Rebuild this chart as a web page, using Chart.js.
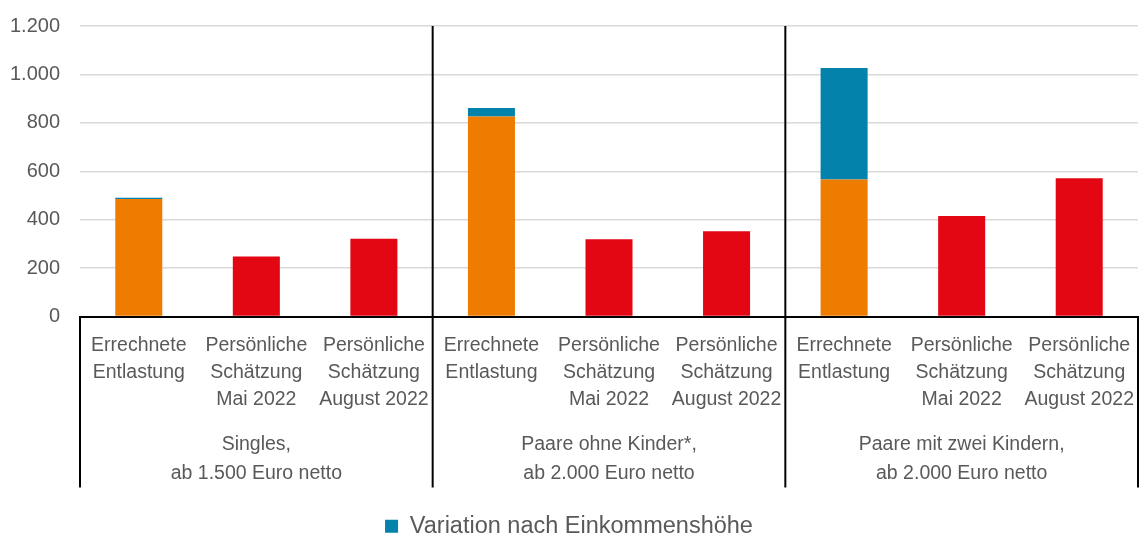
<!DOCTYPE html>
<html>
<head>
<meta charset="utf-8">
<script src="https://cdn.jsdelivr.net/npm/chart.js@4"></script>
<style>
  html, body { margin: 0; padding: 0; background: #fff; }
  #wrap { width: 1140px; height: 535px; }
</style>
</head>
<body>
<div id="wrap"><canvas id="chart"></canvas></div>
<script>
// Kategorien (x-Achse)
const categories = [
  ['Errechnete', 'Entlastung'], ['Persönliche', 'Schätzung', 'Mai 2022'], ['Persönliche', 'Schätzung', 'August 2022'],
  ['Errechnete', 'Entlastung'], ['Persönliche', 'Schätzung', 'Mai 2022'], ['Persönliche', 'Schätzung', 'August 2022'],
  ['Errechnete', 'Entlastung'], ['Persönliche', 'Schätzung', 'Mai 2022'], ['Persönliche', 'Schätzung', 'August 2022']
];
const groups = [
  ['Singles,', 'ab 1.500 Euro netto'],
  ['Paare ohne Kinder*,', 'ab 2.000 Euro netto'],
  ['Paare mit zwei Kindern,', 'ab 2.000 Euro netto']
];

// Werte (Euro)
const errechnet = [485, null, null, 826, null, null, 566, null, null];
const variation = [6, null, null, 35, null, null, 460, null, null];
const schaetzung = [null, 248, 321, null, 319, 352, null, 415, 571];

const yTicks = [0, 200, 400, 600, 800, 1000, 1200];

const textColor = '#595959';
const fontFam = '"Liberation Sans", Arial, sans-serif';

function fmt(v) {
  return String(v).replace(/\B(?=(\d{3})+(?!\d))/g, '.');
}

// Trennlinien + Gruppenbeschriftung
const groupPlugin = {
  id: 'groupPlugin',
  afterDraw(chart) {
    const ctx = chart.ctx;
    const x = chart.scales.x;
    const area = chart.chartArea;
    const bottom = x.top + 171;
    ctx.save();
    ctx.strokeStyle = '#000';
    ctx.lineWidth = 2;
    // Trenner zwischen den Gruppen
    for (let g = 1; g < groups.length; g++) {
      const px = (x.getPixelForValue(g * 3 - 1) + x.getPixelForValue(g * 3)) / 2;
      ctx.beginPath();
      ctx.moveTo(px, area.top);
      ctx.lineTo(px, bottom);
      ctx.stroke();
    }
    // Rand links / rechts unter der Achse
    [area.left, area.right].forEach(px => {
      ctx.beginPath();
      ctx.moveTo(px, x.top);
      ctx.lineTo(px, bottom);
      ctx.stroke();
    });
    ctx.fillStyle = textColor;
    ctx.font = '19.5px ' + fontFam;
    ctx.textAlign = 'center';
    ctx.textBaseline = 'middle';
    groups.forEach((g, i) => {
      const cx = x.getPixelForValue(i * 3 + 1);
      ctx.fillText(g[0], cx, x.top + 128);
      ctx.fillText(g[1], cx, x.top + 157);
    });
    ctx.restore();
  }
};

new Chart(document.getElementById('chart'), {
  type: 'bar',
  data: {
    labels: categories,
    datasets: [
      { label: 'Errechnete Entlastung', data: errechnet, backgroundColor: '#EE7C00', borderWidth: 0 },
      { label: 'Variation nach Einkommenshöhe', data: variation, backgroundColor: '#0382AC', borderWidth: 0 },
      { label: 'Persönliche Schätzung', data: schaetzung, backgroundColor: '#E30613', borderWidth: 0 }
    ]
  },
  options: {
    responsive: true,
    maintainAspectRatio: false,
    animation: false,
    datasets: { bar: { barPercentage: 0.4, categoryPercentage: 1, skipNull: false } },
    layout: { padding: { top: 26, right: 2, left: 0, bottom: -13 } },
    plugins: {
      tooltip: { enabled: false },
      legend: {
        position: 'bottom',
        labels: {
          filter: item => item.datasetIndex === 1,
          boxWidth: 13,
          boxHeight: 13,
          padding: 10,
          color: textColor,
          font: { family: fontFam, size: 23.5 }
        }
      }
    },
    scales: {
      x: {
        stacked: true,
        grid: { display: false, drawTicks: false },
        border: { color: '#000', width: 2 },
        ticks: {
          color: textColor,
          padding: 15,
          maxRotation: 0,
          autoSkip: false,
          font: { family: fontFam, size: 19.5, lineHeight: 1.4 }
        },
        afterFit(scale) {
          scale.height = 188;
          scale.paddingLeft = 0;
          scale.paddingRight = 0;
        }
      },
      y: {
        stacked: true,
        min: 0,
        max: 1200,
        afterBuildTicks(scale) { scale.ticks = yTicks.map(v => ({ value: v })); },
        grid: { color: '#d9d9d9', lineWidth: 1.5, drawTicks: false },
        border: { display: false },
        ticks: {
          color: textColor,
          padding: 20,
          font: { family: fontFam, size: 20 },
          callback: v => fmt(v)
        },
        afterFit(scale) {
          scale.width = 80;
          scale.paddingTop = 0;
          scale.paddingBottom = 0;
        }
      }
    }
  },
  plugins: [groupPlugin]
});
</script>
</body>
</html>
